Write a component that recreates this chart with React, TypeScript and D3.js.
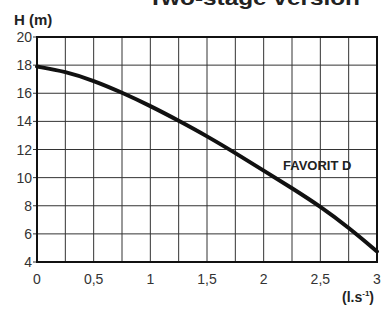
import React, { useRef, useEffect } from 'react';
import * as d3 from 'd3';

const flow = [0, 0.25, 0.5, 0.75, 1, 1.25, 1.5, 1.75, 2, 2.25, 2.5, 2.75, 3];
const head = [17.9, 17.55, 16.9, 16.05, 15.1, 14.05, 12.95, 11.75, 10.5, 9.25, 7.95, 6.45, 4.75];
const xTicks = [0, 0.5, 1, 1.5, 2, 2.5, 3];
const xTickLabels = ['0', '0,5', '1', '1,5', '2', '2,5', '3'];
const yTicks = [4, 6, 8, 10, 12, 14, 16, 18, 20];

const App: React.FC = () => {
  const ref = useRef<SVGSVGElement>(null);

  useEffect(() => {
    if (!ref.current) return;
    const svg = d3.select(ref.current);
    svg.selectAll('*').remove();

    const left = 37;
    const right = 377;
    const top = 37;
    const bottom = 262;

    const x = d3.scaleLinear().domain([0, 3]).range([left, right]);
    const y = d3.scaleLinear().domain([4, 20]).range([bottom, top]);

    svg.append('rect').attr('width', 385).attr('height', 310).attr('fill', '#fff');

    const font = 'Liberation Sans, Arial, sans-serif';

    // title, cut off at the top as in the scan
    svg.append('text')
      .attr('x', 148).attr('y', 5)
      .attr('font-family', font)
      .attr('font-weight', 'bold').attr('font-size', 20)
      .attr('textLength', 212).attr('lengthAdjust', 'spacingAndGlyphs')
      .attr('fill', '#222')
      .text('Two-stage version');

    // grid
    const g = svg.append('g').attr('stroke', '#333').attr('stroke-width', 1);
    d3.range(0, 3.01, 0.25).forEach(v => {
      g.append('line').attr('x1', x(v)).attr('x2', x(v)).attr('y1', top).attr('y2', bottom);
    });
    yTicks.forEach(v => {
      g.append('line').attr('x1', left).attr('x2', right).attr('y1', y(v)).attr('y2', y(v));
      g.append('line').attr('x1', left - 4).attr('x2', left).attr('y1', y(v)).attr('y2', y(v));
    });

    // frame
    svg.append('rect')
      .attr('x', left).attr('y', top)
      .attr('width', right - left).attr('height', bottom - top)
      .attr('fill', 'none').attr('stroke', '#111').attr('stroke-width', 2);

    // y labels
    svg.append('g').selectAll('text').data(yTicks).enter().append('text')
      .attr('x', 32).attr('y', d => y(d) + 5)
      .attr('text-anchor', 'end')
      .attr('font-family', font).attr('font-size', 14).attr('fill', '#333')
      .text(d => String(d));

    // x labels
    svg.append('g').selectAll('text').data(xTicks).enter().append('text')
      .attr('x', d => x(d)).attr('y', 284)
      .attr('text-anchor', 'middle')
      .attr('font-family', font).attr('font-size', 14).attr('fill', '#333')
      .text((d, i) => xTickLabels[i]);

    // axis titles
    svg.append('text')
      .attr('x', 14).attr('y', 25)
      .attr('font-family', font).attr('font-size', 15).attr('font-weight', 'bold').attr('fill', '#222')
      .text('H (m)');

    const unit = svg.append('text')
      .attr('x', 342).attr('y', 302)
      .attr('font-family', font).attr('font-size', 14).attr('font-weight', 'bold').attr('fill', '#222');
    unit.append('tspan').text('(l.s');
    unit.append('tspan').attr('font-size', 8).attr('dy', -6).text('-1');
    unit.append('tspan').attr('dy', 6).text(')');

    // curve
    const line = d3.line<number>()
      .x((d, i) => x(flow[i]))
      .y(d => y(d))
      .curve(d3.curveBasis);
    svg.append('path')
      .datum(head)
      .attr('d', line)
      .attr('fill', 'none').attr('stroke', '#111').attr('stroke-width', 4)
      .attr('stroke-linecap', 'round');

    // label
    svg.append('text')
      .attr('x', 283).attr('y', 170)
      .attr('font-family', font).attr('font-size', 13).attr('font-weight', 'bold').attr('fill', '#222')
      .text('FAVORIT D');
  }, []);

  return (
    <svg ref={ref} width={385} height={310}
      style={{ position: 'absolute', left: 0, top: 0, display: 'block' }} />
  );
};

export default App;
